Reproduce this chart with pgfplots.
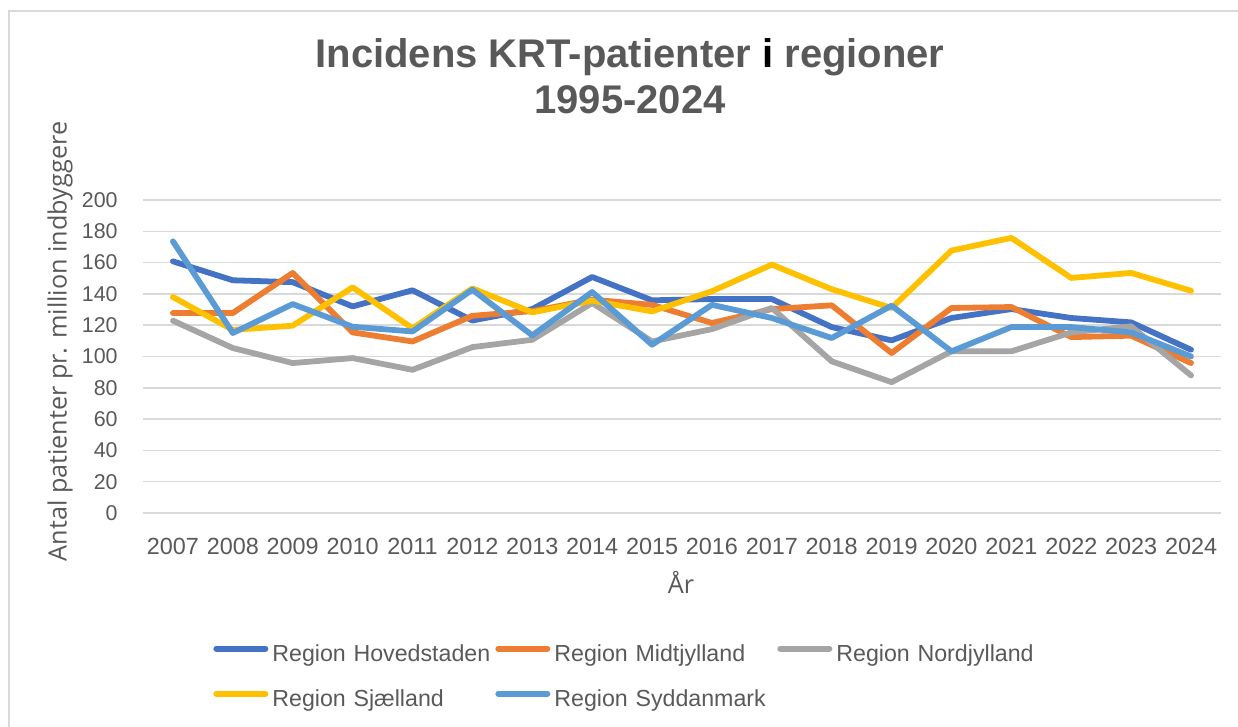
\documentclass[border=0pt]{standalone}
\usepackage{pgfplots}
\pgfplotsset{compat=1.18}
\usepackage{pgfplotstable}
\usepackage{fontspec}
\setmainfont{Liberation Sans}
\newfontfamily\labfont{Open Sans}
\definecolor{txt}{HTML}{595959}
\definecolor{gridc}{HTML}{D9D9D9}
\definecolor{cH}{HTML}{4472C4}
\definecolor{cM}{HTML}{ED7D31}
\definecolor{cN}{HTML}{A5A5A5}
\definecolor{cS}{HTML}{FFC000}
\definecolor{cD}{HTML}{5B9BD5}
\pgfplotstableread{
year H M N S D
2007 160.8 127.8 122.9 138.0 173.6
2008 148.7 127.8 105.4 117.0 115.0
2009 147.5 153.4 95.8 119.7 133.5
2010 132.0 115.4 99.0 144.2 119.0
2011 142.3 109.6 91.5 118.0 116.0
2012 123.0 126.0 106.0 143.5 142.7
2013 130.3 129.0 110.7 128.2 113.5
2014 150.8 136.3 134.2 135.7 141.2
2015 135.9 133.0 109.6 128.8 107.5
2016 136.7 121.4 117.5 141.7 133.0
2017 136.7 130.3 131.0 158.7 124.6
2018 118.8 132.7 96.9 143.0 111.8
2019 110.3 102.2 83.6 131.0 132.5
2020 124.6 131.0 103.3 167.7 103.3
2021 130.3 131.6 103.3 175.8 118.8
2022 124.6 112.4 115.4 150.2 118.8
2023 121.8 113.3 119.3 153.4 115.4
2024 104.3 95.8 87.9 142.0 100.0
}\datatable
\begin{document}
\begin{tikzpicture}
\path[use as bounding box] (-71.5pt,-107pt) rectangle (547.5pt,256.5pt);
\draw[gridc, line width=0.75pt] (-67pt,251pt) rectangle (560pt,-120pt);
\begin{axis}[
  at={(0,0)}, anchor=south west,
  width=539pt, height=156.5pt, scale only axis,
  xmin=2006.5, xmax=2024.5, ymin=0, ymax=200,
  xtick={2007,2008,...,2024}, ytick={0,20,...,200},
  /pgf/number format/assume math mode=true,
  /pgf/number format/1000 sep={},
  axis line style={draw=none},
  major tick length=0pt,
  ymajorgrids, grid style={gridc, line width=0.75pt},
  xticklabel style={font=\fontsize{11.7}{14}\selectfont, text=txt, anchor=center, yshift=-16.5pt},
  yticklabel style={font=\fontsize{10.7}{12}\selectfont, text=txt, anchor=east, inner sep=0pt, xshift=-12.5pt},
  legend columns=3,
  legend cell align=left,
  legend style={at={(0.0649,-0.4204)}, anchor=north west, draw=none, fill=none, inner sep=0pt,
    font=\fontsize{11.6}{13}\selectfont, text=txt,
    nodes={inner sep=0pt, text height=8.3pt, text depth=2.4pt, text width=111.5pt, align=left},
    row sep=11.8pt,
    /tikz/every odd column/.style={column sep=2pt},
    /tikz/every even column/.style={column sep=0pt}},
  legend image code/.code={\draw[#1, line cap=round] (0pt,3.5pt) -- (24.6pt,3.5pt);},
  every axis plot/.append style={line width=2.9pt, line join=round, line cap=round},
]
\addplot[cH] table[x=year,y=H] {\datatable};
\addlegendentry{Region Hovedstaden}
\addplot[cM] table[x=year,y=M] {\datatable};
\addlegendentry{Region Midtjylland}
\addplot[cN] table[x=year,y=N] {\datatable};
\addlegendentry{Region Nordjylland}
\addplot[cS] table[x=year,y=S] {\datatable};
\addlegendentry{Region Sjælland}
\addplot[cD] table[x=year,y=D] {\datatable};
\addlegendentry{Region Syddanmark}
\end{axis}
\node[txt, font=\bfseries\fontsize{20}{24}\selectfont] at (243.5pt,228pt) {Incidens KRT-patienter {\color{black}i} regioner};
\node[txt, font=\bfseries\fontsize{20}{24}\selectfont] at (243.5pt,206.5pt) {1995-2024};
\node[txt, font=\labfont\fontsize{12.6}{15}\selectfont, rotate=90] at (-41.5pt,85.75pt) {Antal patienter pr. million indbyggere};
\node[txt, font=\labfont\fontsize{12.6}{15}\selectfont] at (269pt,-34.5pt) {År};
\end{tikzpicture}
\end{document}
